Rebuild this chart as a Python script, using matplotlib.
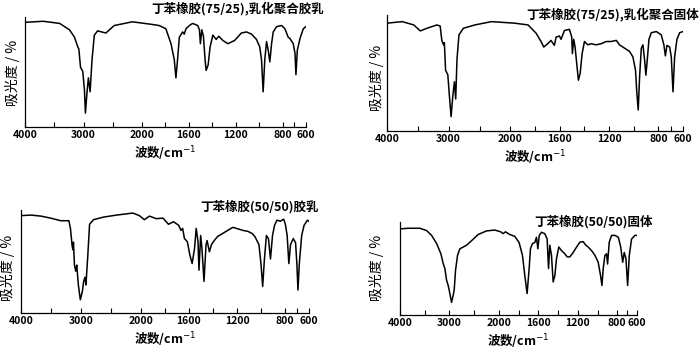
import numpy as np
import matplotlib
matplotlib.use("Agg")
import matplotlib.pyplot as plt

plt.rcParams["font.family"] = ["Noto Sans CJK SC", "DejaVu Sans"]
plt.rcParams["mathtext.fontset"] = "dejavusans"

# wavenumbers (cm-1) and relative curve height
wn1 = [4000, 3690, 3408, 3240, 3154, 3098, 3080, 3052, 3013, 2985, 2968, 2940, 2917, 2888, 2855,
       2816, 2760, 2618, 2477, 2167, 1911, 1854, 1797, 1753, 1725, 1711, 1697, 1682, 1654, 1640,
       1625, 1596, 1568, 1525, 1510, 1502, 1490, 1476, 1462, 1453, 1436, 1419, 1396, 1367, 1345,
       1310, 1267, 1210, 1152, 1109, 1066, 1023, 995, 980, 966, 952, 937, 923, 909, 894, 880, 851,
       808, 780, 752, 738, 709, 694, 686, 674, 651, 623, 600]
ab1 = [.98, .99, .97, .91, .84, .75, .73, .56, .52, .35, .13, .33, .46, .33, .63,
       .86, .90, .88, .95, .985, .96, .95, .92, .78, .63, .46, .63, .84, .89, .87,
       .92, .95, .97, .95, .91, .78, .91, .85, .63, .53, .58, .75, .86, .82, .85,
       .81, .78, .81, .88, .89, .87, .82, .75, .63, .33, .63, .80, .72, .61, .78, .89, .94,
       .95, .92, .84, .83, .78, .69, .49, .72, .83, .92, .94]

wn2 = [4000, 3754, 3566, 3460, 3352, 3191, 3138, 3111, 3084, 3070, 3050, 3014, 2987, 2961, 2934,
       2907, 2886, 2865, 2833, 2762, 2575, 2307, 1965, 1856, 1791, 1751, 1729, 1697, 1670, 1643,
       1629, 1602, 1589, 1561, 1521, 1502, 1497, 1486, 1475, 1459, 1448, 1434, 1418, 1399, 1372,
       1345, 1304, 1263, 1223, 1182, 1141, 1115, 1074, 1033, 1006, 985, 974, 963, 952, 938, 925,
       911, 901, 890, 876, 857, 816, 776, 755, 743, 730, 708, 695, 681, 668, 649, 627, 600]
ab2 = [.976, .99, .96, .906, .93, .96, .95, .82, .78, .80, .55, .51, .31, .13, .31,
       .445, .29, .65, .87, .93, .96, .99, .976, .96, .885, .81, .76, .79, .82, .775,
       .85, .86, .83, .91, .92, .85, .70, .83, .76, .58, .46, .52, .70, .81, .78,
       .79, .78, .79, .81, .81, .82, .78, .75, .72, .67, .55, .34, .19, .49, .75, .78,
       .64, .505, .64, .83, .89, .90, .87, .78, .68, .775, .76, .67, .355, .67, .83, .89, .90]

wn3 = [4000, 3831, 3667, 3503, 3339, 3202, 3175, 3148, 3135, 3126, 3109, 3087, 3071, 3044, 3011,
       2978, 2956, 2934, 2918, 2890, 2857, 2792, 2628, 2410, 2136, 2028, 1972, 1930, 1873, 1816,
       1794, 1771, 1729, 1686, 1667, 1653, 1638, 1614, 1593, 1574, 1554, 1540, 1525, 1517, 1503,
       1492, 1475, 1458, 1449, 1430, 1413, 1390, 1362, 1319, 1277, 1235, 1192, 1150, 1108, 1074,
       1051, 1034, 1017, 1000, 986, 972, 955, 938, 921, 904, 887, 867, 839, 811, 797, 782, 768,
       754, 731, 712, 701, 692, 681, 661, 641, 613, 600]
ab3 = [.955, .96, .95, .93, .905, .905, .825, .66, .62, .695, .47, .41, .47, .275, .13,
       .21, .31, .35, .275, .53, .87, .915, .94, .96, .98, .955, .915, .95, .925, .93,
       .90, .87, .895, .86, .81, .83, .73, .70, .57, .485, .63, .83, .70, .42, .76,
       .63, .31, .67, .71, .60, .67, .71, .75, .78, .81, .84, .825, .81, .80, .78,
       .75, .71, .67, .48, .26, .52, .76, .73, .53, .76, .86, .91, .90, .92, .87, .76, .485,
       .67, .73, .69, .48, .225, .48, .76, .86, .91, .90]

wn4 = [4000, 3832, 3596, 3461, 3360, 3259, 3172, 3125, 3091, 3057, 3024, 2990, 2956, 2923, 2902,
       2875, 2835, 2788, 2721, 2653, 2552, 2418, 2249, 2081, 1980, 1956, 1932, 1888, 1838, 1794,
       1760, 1736, 1713, 1692, 1679, 1658, 1635, 1618, 1604, 1590, 1567, 1534, 1510, 1496, 1483,
       1466, 1449, 1432, 1415, 1392, 1364, 1331, 1307, 1280, 1246, 1212, 1178, 1145, 1118, 1094,
       1060, 1026, 993, 969, 955, 942, 925, 908, 898, 881, 857, 823, 789, 765, 745, 729, 712,
       695, 678, 655, 621, 604]
ab4 = [.963, .97, .97, .944, .89, .80, .685, .575, .52, .39, .33, .24, .14, .22, .28,
       .50, .667, .74, .76, .78, .83, .90, .94, .95, .93, .91, .93, .90, .88, .81,
       .667, .44, .24, .52, .74, .80, .81, .87, .74, .89, .925, .91, .85, .52, .78,
       .667, .37, .44, .63, .76, .72, .685, .65, .65, .70, .76, .815, .82, .78, .76,
       .72, .667, .59, .44, .33, .52, .667, .685, .57, .815, .89, .89, .87, .76, .59, .70, .63,
       .33, .667, .85, .89, .89]

titles = ["丁苯橡胶(75/25),乳化聚合胶乳", "丁苯橡胶(75/25),乳化聚合固体",
          "丁苯橡胶(50/50)胶乳", "丁苯橡胶(50/50)固体"]
major_ticks = [4000, 3000, 2000, 1600, 1200, 800, 600]
minor_ticks = [3500, 2500, 1800, 1400, 1000, 700]


# scale compressed by 2 above 2000 cm-1, like the spectrometer chart paper
def fwd(w):
    w = np.asarray(w, dtype=float)
    return np.where(w > 2000, 2000 + (w - 2000) / 2, w)


def inv(u):
    u = np.asarray(u, dtype=float)
    return np.where(u > 2000, 2000 + (u - 2000) * 2, u)


W, H = 700, 357
fig = plt.figure(figsize=(7, 3.57), dpi=100)

# pixel boxes: left, right, bottom, top ; ylim top ; title (x right, y) ; ylabel (x, y)
panels = [
    (wn1, ab1, (25, 306, 127, 17), 1.03, (324, 8), (12, 73)),
    (wn2, ab2, (387, 683, 131, 15), 1.05, (699, 14), (377, 78)),
    (wn3, ab3, (21, 309, 313, 210), 1.01, (319, 207), (8, 268)),
    (wn4, ab4, (400, 637, 315, 222), 1.04, (653, 222), (377, 268)),
]

for i, (wn, ab, box, ytop, tpos, ypos) in enumerate(panels):
    l, r, b, t = box
    ax = fig.add_axes([l / W, 1 - b / H, (r - l) / W, (b - t) / H])
    ax.set_xscale("function", functions=(fwd, inv))
    ax.plot(wn, ab, color="black", lw=1.1)
    ax.set_xlim(4000, 600)
    ax.set_ylim(0, ytop)
    ax.set_xticks(major_ticks)
    ax.set_xticklabels([str(v) for v in major_ticks], fontsize=7.5, fontweight="bold")
    ax.set_xticks(minor_ticks, minor=True)
    ax.xaxis.set_minor_formatter(matplotlib.ticker.NullFormatter())
    ax.tick_params(axis="x", which="both", direction="in", length=3.5, width=0.8, pad=2)
    ax.set_yticks([])
    for s in ["top", "right"]:
        ax.spines[s].set_visible(False)
    for s in ["left", "bottom"]:
        ax.spines[s].set_linewidth(0.9)
    ax.set_xlabel("波数/cm$^{-1}$", fontsize=9, fontweight="bold", labelpad=3)
    fig.text(tpos[0] / W, 1 - tpos[1] / H, titles[i], ha="right", va="center",
             fontsize=9, fontweight="bold")
    fig.text(ypos[0] / W, 1 - ypos[1] / H, "吸光度 / %", ha="center", va="center",
             rotation=90, fontsize=10)

fig.savefig("out.png", dpi=100, facecolor="white")
